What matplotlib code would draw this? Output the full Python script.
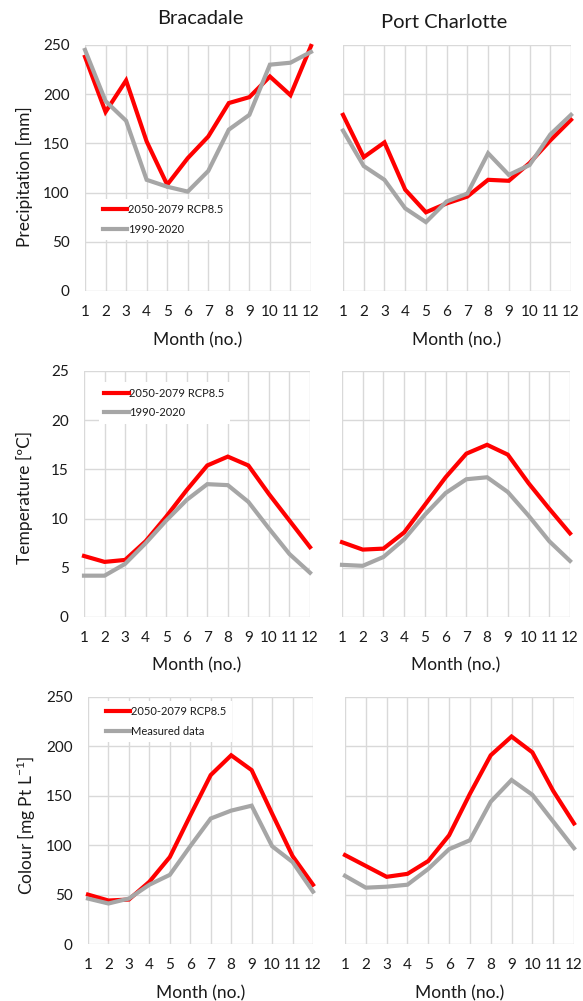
import matplotlib
matplotlib.use("Agg")
import matplotlib.pyplot as plt

plt.rcParams['font.family'] = ['Lato', 'DejaVu Sans']

months = list(range(1, 13))
month_labels = [str(m) for m in months]

sites = ["Bracadale", "Port Charlotte"]
future_label = "2050-2079 RCP8.5"
baseline_label = "1990-2020"
measured_label = "Measured data"

# Precipitation [mm]
precip_brac_future = [238, 182, 214, 152, 108, 135, 157, 191, 197, 218, 199, 249]
precip_brac_base = [245, 193, 173, 113, 106, 101, 122, 164, 179, 230, 232, 243]
precip_port_future = [179, 136, 151, 103, 80, 89, 96, 113, 112, 130, 153, 174]
precip_port_base = [163, 127, 113, 84, 70, 91, 99, 140, 118, 128, 159, 179]

# Temperature [ºC]
temp_brac_future = [6.2, 5.6, 5.8, 7.7, 10.2, 12.9, 15.4, 16.3, 15.4, 12.5, 9.8, 7.1]
temp_brac_base = [4.2, 4.2, 5.4, 7.5, 9.8, 11.9, 13.5, 13.4, 11.7, 9.0, 6.4, 4.5]
temp_port_future = [7.6, 6.85, 6.95, 8.6, 11.4, 14.2, 16.6, 17.5, 16.5, 13.6, 11.0, 8.5]
temp_port_base = [5.3, 5.2, 6.1, 7.9, 10.4, 12.6, 14.0, 14.2, 12.7, 10.3, 7.7, 5.7]

# Colour [mg Pt L-1]
colour_brac_future = [50, 44, 45, 63, 88, 130, 171, 191, 176, 132, 89, 60]
colour_brac_base = [46, 41, 46, 60, 70, 99, 127, 135, 140, 99, 83, 53]
colour_port_future = [90, 79, 68, 71, 84, 110, 152, 191, 210, 194, 155, 122]
colour_port_base = [69, 57, 58, 60, 76, 96, 105, 144, 166, 151, 124, 97]

y_ticks_precip = [0, 50, 100, 150, 200, 250]
y_ticks_temp = [0, 5, 10, 15, 20, 25]
y_ticks_colour = [0, 50, 100, 150, 200, 250]

RED = "#ff0000"
GREY = "#a6a6a6"
GRID = "#d9d9d9"
TXT = "#1a1a1a"

W, H = 583, 1001
fig = plt.figure(figsize=(W / 100, H / 100), dpi=100)

def px_axes(x0, x1, y0, y1):
    return fig.add_axes([x0 / W, 1 - y1 / H, (x1 - x0) / W, (y1 - y0) / H])

rows = [
    dict(y=(45, 291), xl=(85, 311), xr=(343, 571),
         data=[(precip_brac_future, precip_brac_base), (precip_port_future, precip_port_base)],
         ticks=y_ticks_precip, base_label=baseline_label,
         ylabel="Precipitation [mm]", ylab_pos=(24, 177),
         leg=(0.055, 0.375), xlab_y=340),
    dict(y=(371, 617), xl=(84, 310), xr=(342, 570),
         data=[(temp_brac_future, temp_brac_base), (temp_port_future, temp_port_base)],
         ticks=y_ticks_temp, base_label=baseline_label,
         ylabel="Temperature [ºC]", ylab_pos=(24, 497),
         leg=(0.065, 0.955), xlab_y=665),
    dict(y=(697, 944), xl=(88, 313), xr=(345, 574),
         data=[(colour_brac_future, colour_brac_base), (colour_port_future, colour_port_base)],
         ticks=y_ticks_colour, base_label=measured_label,
         ylabel="Colour [mg Pt L$^{\\mathregular{-1}}$]", ylab_pos=(26, 825),
         leg=(0.055, 0.985), xlab_y=993),
]

for r in rows:
    for j, (xr, (fut, base)) in enumerate(zip([r["xl"], r["xr"]], r["data"])):
        ax = px_axes(xr[0], xr[1], r["y"][0], r["y"][1])
        ax.plot(months, fut, color=RED, lw=3.0, label=future_label,
                clip_on=False, solid_joinstyle='miter', zorder=3)
        ax.plot(months, base, color=GREY, lw=3.0, label=r["base_label"],
                clip_on=False, solid_joinstyle='miter', zorder=4)
        ax.set_xlim(1, 12)
        ax.set_ylim(r["ticks"][0], r["ticks"][-1])
        ax.set_xticks(months)
        ax.set_xticklabels(month_labels)
        ax.set_yticks(r["ticks"])
        for s in ax.spines.values():
            s.set_visible(False)
        ax.grid(True, color=GRID, lw=1.0, zorder=0)
        ax.set_axisbelow(True)
        ax.tick_params(length=0, labelsize=11, colors=TXT, pad=10)
        ax.tick_params(axis='y', pad=11)
        if j == 1:
            ax.set_yticklabels([])
        else:
            leg = ax.legend(loc='upper left', bbox_to_anchor=r["leg"], fontsize=8,
                            frameon=True, facecolor='white', edgecolor='none',
                            framealpha=1, fancybox=False, handlelength=2.2,
                            handletextpad=0.05, labelspacing=0.75, borderpad=0.5,
                            borderaxespad=0)
            for t in leg.get_texts():
                t.set_color(TXT)
            leg.set_zorder(5)
        cx = (xr[0] + xr[1]) / 2
        fig.text(cx / W, 1 - r["xlab_y"] / H, "Month (no.)", ha='center', va='center',
                 fontsize=12.5, color=TXT)
    fig.text(r["ylab_pos"][0] / W, 1 - r["ylab_pos"][1] / H, r["ylabel"], rotation=90,
             ha='center', va='center', fontsize=12.5, color=TXT)

fig.text(200 / W, 1 - 18 / H, sites[0], ha='center', va='center', fontsize=14.5, color=TXT)
fig.text(444 / W, 1 - 22 / H, sites[1], ha='center', va='center', fontsize=14.5, color=TXT)

fig.savefig("out.png", dpi=100, facecolor='white')
